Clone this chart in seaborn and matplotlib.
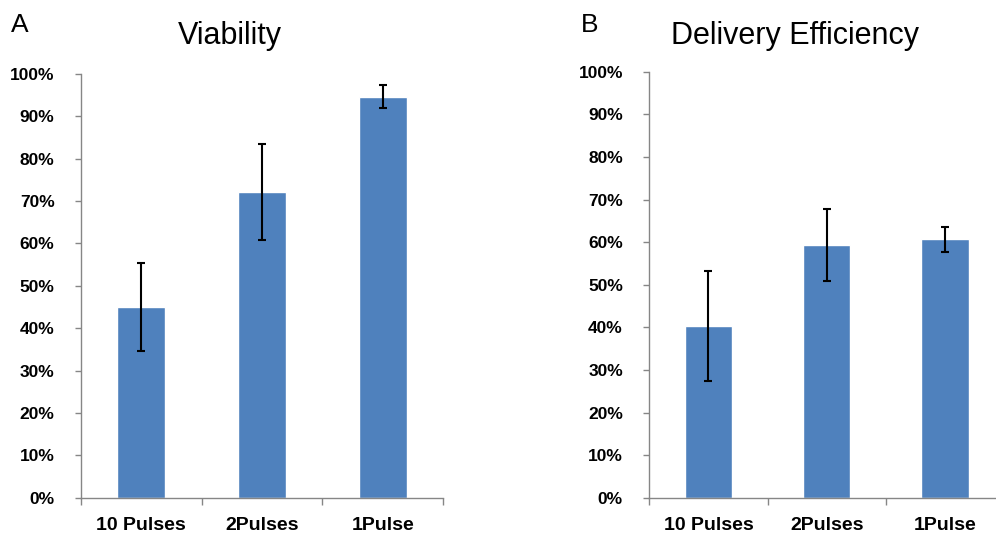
import matplotlib
matplotlib.use('Agg')
import matplotlib.pyplot as plt
import seaborn as sns
import pandas as pd
from matplotlib.ticker import FixedLocator, FuncFormatter

# --- Datos ---
tratamientos = ['10 Pulses', '2Pulses', '1Pulse']
viabilidad = [45.0, 72.1, 94.6]
viabilidad_err = [10.4, 11.3, 2.7]
eficiencia = [40.4, 59.3, 60.7]
eficiencia_err = [12.9, 8.5, 2.9]

COLOR_BARRA = '#4F81BD'
COLOR_EJE = '#868686'

sns.set_theme(style="white")
plt.rcParams['font.family'] = ['Liberation Sans', 'DejaVu Sans']
plt.rcParams['text.color'] = 'black'
plt.rcParams['xtick.labelcolor'] = 'black'
plt.rcParams['ytick.labelcolor'] = 'black'

fig = plt.figure(figsize=(9.96, 5.33), dpi=100)
ax_a = fig.add_axes([0.0813, 0.0662, 0.3635, 0.7950])
ax_b = fig.add_axes([0.6519, 0.0657, 0.3564, 0.7998])


def panel(ax, valores, errores):
    df = pd.DataFrame({'grupo': tratamientos, 'valor': valores})
    sns.barplot(data=df, x='grupo', y='valor', order=tratamientos, color=COLOR_BARRA,
                width=0.4, saturation=1, errorbar=None, ax=ax)
    ax.errorbar(range(len(tratamientos)), valores, yerr=errores, fmt='none',
                ecolor='black', elinewidth=1.5, capsize=2.8, capthick=1.5)
    ax.set_ylim(0, 100)
    ax.set_xlim(-0.5, len(tratamientos) - 0.5)
    ax.set_xlabel('')
    ax.set_ylabel('')
    ax.set_yticks(range(0, 101, 10))
    ax.yaxis.set_major_formatter(FuncFormatter(lambda v, p: f'{v:.0f}%'))
    ax.tick_params(axis='y', length=4, width=1, color=COLOR_EJE, pad=15,
                   labelsize=12.5, labelcolor='black', left=True)
    ax.tick_params(axis='x', which='major', length=0, pad=14, labelsize=14,
                   labelcolor='black', bottom=True)
    ax.xaxis.set_minor_locator(FixedLocator([-0.5, 0.5, 1.5, 2.5]))
    ax.tick_params(axis='x', which='minor', length=5, width=1, color=COLOR_EJE, bottom=True)
    for lab in ax.get_xticklabels() + ax.get_yticklabels():
        lab.set_fontweight('bold')
    for lado in ['top', 'right']:
        ax.spines[lado].set_visible(False)
    for lado in ['left', 'bottom']:
        ax.spines[lado].set_color(COLOR_EJE)
        ax.spines[lado].set_linewidth(1)


panel(ax_a, viabilidad, viabilidad_err)
panel(ax_b, eficiencia, eficiencia_err)

fig.text(230 / 996, 1 - 44 / 533, 'Viability', fontsize=22, color='black',
         ha='center', va='baseline')
fig.text(795 / 996, 1 - 44 / 533, 'Delivery Efficiency', fontsize=22, color='black',
         ha='center', va='baseline')
fig.text(11 / 996, 1 - 32 / 533, 'A', fontsize=19, color='black', ha='left', va='baseline')
fig.text(581 / 996, 1 - 32 / 533, 'B', fontsize=19, color='black', ha='left', va='baseline')

fig.savefig('out.png', dpi=100)
